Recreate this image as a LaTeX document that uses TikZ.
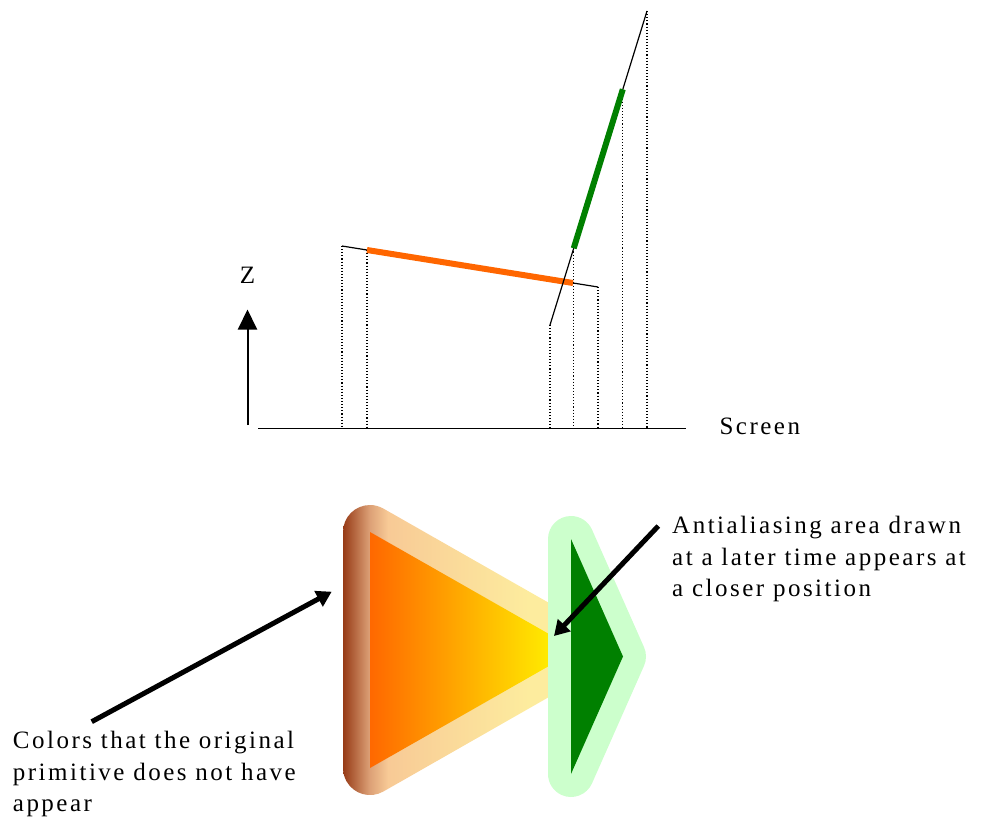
\documentclass[tikz,border=0pt]{standalone}
\usepackage{fontspec}
\setmainfont{Liberation Serif}[LetterSpace=10]
\usetikzlibrary{arrows.meta}
\definecolor{edgeorange}{RGB}{255,102,0}
\definecolor{edgegreen}{RGB}{0,128,0}
\definecolor{haloGreen}{RGB}{204,255,204}
\definecolor{haloBrown}{RGB}{150,58,22}
\definecolor{haloTan}{RGB}{220,160,118}
\definecolor{haloPeach}{RGB}{248,202,150}
\definecolor{haloPale}{RGB}{253,236,158}
\definecolor{fillOrange}{RGB}{255,104,0}
\definecolor{fillYellow}{RGB}{255,234,0}
\pgfdeclarehorizontalshading{orangehalo}{100bp}{color(0bp)=(haloBrown); color(25bp)=(haloBrown); color(30bp)=(haloTan); color(33.5bp)=(haloPeach); color(60bp)=(haloPale); color(100bp)=(haloPale)}
\pgfdeclarehorizontalshading{orangefill}{100bp}{color(0bp)=(fillOrange); color(25bp)=(fillOrange); color(68bp)=(fillYellow); color(100bp)=(fillYellow)}

\begin{document}
\begin{tikzpicture}[x=1pt,y=-1pt,
    axis/.style={line width=1.6pt},
    ray/.style={line width=1.2pt},
    drop/.style={line width=1.1pt,dash pattern=on 1.1pt off 2pt},
    visible/.style={line width=6pt},
    pointer/.style={line width=5pt,-{Triangle[length=15pt,width=17pt]}},
    caption/.style={inner sep=0pt,align=left,anchor=north west,
        font=\fontsize{25}{31.3}\selectfont}
]
    \useasboundingbox (0,0) rectangle (989,819);

    \coordinate (scrL) at (258,428.5);
    \coordinate (scrR) at (686,428.5);
    \coordinate (zfoot) at (247.5,425);
    \coordinate (ztop) at (247.5,309.5);
    \node[anchor=base,inner sep=0pt,font=\fontsize{25}{30}\selectfont] (zlabel) at (247.5,283.3) {Z};
    \node[anchor=base west,inner sep=0pt,font=\fontsize{25}{30}\selectfont] (screen) at (719.3,434.3) {Screen};
    \draw[axis] (scrL)--(scrR);
    \draw[line width=2pt,-{Triangle[length=20pt,width=19pt]}] (zfoot)--(ztop);

    \coordinate (p1) at (342,246);
    \coordinate (p2) at (367,250);
    \coordinate (p3) at (573,283);
    \coordinate (p4) at (598,287);
    \coordinate (q1) at (550,325);
    \coordinate (q2) at (573.7,248.3);
    \coordinate (q3) at (622.8,89.3);
    \coordinate (q4) at (647,11);
    \foreach \pt in {p1,p2,q1,q2,p4,q3,q4}
        \draw[drop] (\pt)--(\pt |- scrL);
    \draw[ray] (p1)--(p4);
    \draw[visible,edgeorange] (p2)--(p3);
    \draw[ray] (q1)--(q4);
    \draw[visible,edgegreen] (q2)--(q3);

    \shade[shading=orangehalo] (343,532) arc[start angle=180,end angle=299.7,radius=27]
        -- (590.4,626.5) arc[start angle=-60.3,end angle=60.3,radius=27]
        -- (383.4,791.5) arc[start angle=60.3,end angle=180,radius=27] -- cycle;
    \shade[shading=orangefill] (370,532) -- (577,650) -- (370,768) -- cycle;
    \fill[haloGreen] (548,539) arc[start angle=180,end angle=336.13,radius=23]
        -- (644.03,647.19) arc[start angle=-23.87,end angle=23.87,radius=23]
        -- (592.03,783.31) arc[start angle=23.87,end angle=180,radius=23] -- cycle;
    \fill[edgegreen] (571,539) -- (623,656.5) -- (571,774) -- cycle;

    \node[caption] (later) at (672,516.2)
        {Antialiasing area drawn\\at a later time appears at\\a closer position};
    \node[caption] (colors) at (12.7,731.2)
        {Colors that the original\\primitive does not have\\appear};
    \coordinate (laterTail) at (658.3,526);
    \coordinate (laterHead) at (554,636);
    \coordinate (colorsTail) at (91.7,721.7);
    \coordinate (colorsHead) at (331.7,591.7);
    \draw[pointer] (laterTail)--(laterHead);
    \draw[pointer] (colorsTail)--(colorsHead);
\end{tikzpicture}
\end{document}
